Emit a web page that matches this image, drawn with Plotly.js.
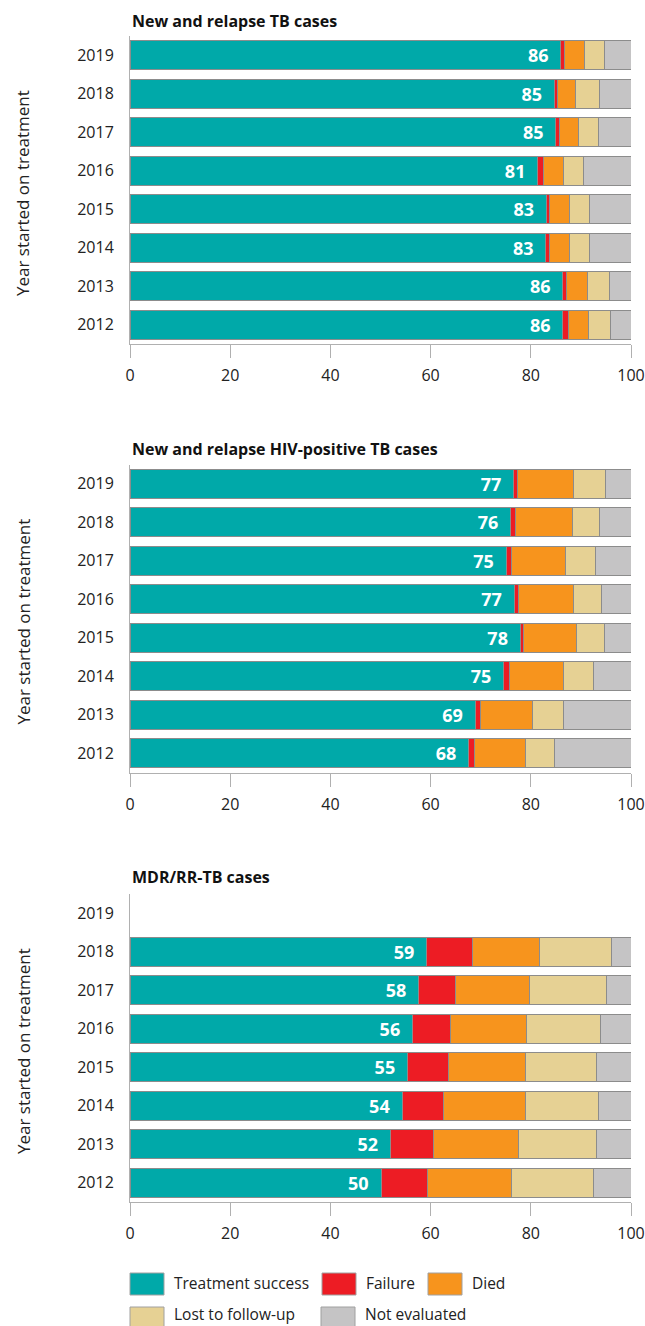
<!DOCTYPE html>
<html>
<head>
<meta charset="utf-8">
<script src="https://cdn.plot.ly/plotly-3.0.1.min.js"></script>
<style>html,body{margin:0;padding:0;background:#fff;}#chart{width:645px;height:1326px;}</style>
</head>
<body>
<div id="chart"></div>
<script>
const years = ['2012','2013','2014','2015','2016','2017','2018','2019'];
const seriesNames = ['Treatment success','Failure','Died','Lost to follow-up','Not evaluated'];
const panelTitles = ['New and relapse TB cases','New and relapse HIV-positive TB cases','MDR/RR-TB cases'];
const xTicks = [0,20,40,60,80,100];
const yTitle = 'Year started on treatment';

// Panel 1: New and relapse TB cases (2012..2019)
const success1 = [86.4, 86.4, 83.0, 83.1, 81.4, 85.0, 84.7, 86.0];
const failure1 = [1.1, 0.8, 0.7, 0.7, 1.2, 0.8, 0.7, 0.8];
const died1    = [4.1, 4.2, 4.0, 3.9, 4.0, 3.8, 3.6, 3.9];
const ltfu1    = [4.4, 4.3, 4.1, 4.0, 4.0, 4.0, 4.7, 4.1];
const ne1      = [4.0, 4.3, 8.2, 8.3, 9.4, 6.4, 6.3, 5.2];

// Panel 2: New and relapse HIV-positive TB cases
const success2 = [67.6, 68.9, 74.6, 77.9, 76.7, 75.1, 76.0, 76.6];
const failure2 = [1.1, 1.0, 1.1, 0.7, 0.8, 1.0, 1.0, 0.8];
const died2    = [10.3, 10.5, 10.9, 10.6, 11.0, 10.8, 11.4, 11.1];
const ltfu2    = [5.8, 6.1, 5.9, 5.6, 5.7, 6.1, 5.4, 6.4];
const ne2      = [15.2, 13.5, 7.5, 5.2, 5.8, 7.0, 6.2, 5.1];

// Panel 3: MDR/RR-TB cases (no 2019 data)
const success3 = [50.1, 52.0, 54.3, 55.4, 56.4, 57.6, 59.2, null];
const failure3 = [9.3, 8.6, 8.2, 8.2, 7.6, 7.4, 9.2, null];
const died3    = [16.7, 17.0, 16.4, 15.4, 15.2, 14.7, 13.3, null];
const ltfu3    = [16.4, 15.6, 14.6, 14.2, 14.8, 15.4, 14.4, null];
const ne3      = [7.5, 6.8, 6.5, 6.8, 6.0, 4.9, 3.9, null];

const colors = ['#00A9A9','#ED1C24','#F7941D','#E6D194','#C5C4C5'];
const outline = '#8C8C8C';
const FONT = 'Open Sans, Noto Sans, sans-serif';

const panels = [
  [success1, failure1, died1, ltfu1, ne1],
  [success2, failure2, died2, ltfu2, ne2],
  [success3, failure3, died3, ltfu3, ne3]
];

// pixel geometry helpers
const W = 645, H = 1326;
const L = 130, R = 14, T = 36, B = 124;
const plotW = W - L - R, plotH = H - T - B;
const px2x = p => (p - L) / plotW;
const py2y = p => (H - B - p) / plotH;

const panelPx = [[36, 344], [464.5, 772.5], [894, 1202]];
const titlePy = [21, 449, 877];

const traces = [];
panels.forEach((series, pi) => {
  const sfx = pi === 0 ? '' : String(pi + 1);
  series.forEach((vals, si) => {
    const tr = {
      type: 'bar', orientation: 'h',
      x: vals, y: years,
      xaxis: 'x' + sfx, yaxis: 'y' + sfx,
      name: seriesNames[si],
      marker: {color: colors[si], line: {color: outline, width: 1}},
      showlegend: false,
      hoverinfo: 'x+name'
    };
    if (si === 0) {
      tr.texttemplate = '%{x:.0f}\u00a0\u00a0';
      tr.textposition = 'inside';
      tr.insidetextanchor = 'end';
      tr.insidetextfont = {family: FONT, size: 18, color: '#ffffff', weight: 'bold'};
      tr.constraintext = 'none';
    } else {
      tr.textposition = 'none';
    }
    traces.push(tr);
  });
});

const layout = {
  width: W, height: H,
  margin: {l: L, r: R, t: T, b: B},
  paper_bgcolor: '#fff', plot_bgcolor: '#fff',
  barmode: 'stack', bargap: 0.25,
  font: {family: FONT, size: 16, color: '#222'},
  showlegend: false,
  annotations: [], shapes: []
};

panelPx.forEach((pp, pi) => {
  const sfx = pi === 0 ? '' : String(pi + 1);
  layout['xaxis' + sfx] = {
    domain: [0, 1], anchor: 'y' + sfx, range: [0, 100], fixedrange: true,
    tickvals: xTicks, ticktext: xTicks.map(String),
    ticks: 'outside', ticklen: 13, tickcolor: '#B0B0B0', tickwidth: 1,
    showline: true, linecolor: '#B0B0B0', linewidth: 1,
    showgrid: false, zeroline: false,
    tickfont: {family: FONT, size: 16, color: '#222'},
    ticklabelstandoff: 4
  };
  layout['yaxis' + sfx] = {
    domain: [py2y(pp[1]), py2y(pp[0])], anchor: 'x' + sfx,
    type: 'category', categoryorder: 'array', categoryarray: years,
    range: [-0.5, 7.5], fixedrange: true,
    showline: true, linecolor: '#B0B0B0', linewidth: 1,
    showgrid: false, zeroline: false, ticks: '',
    tickfont: {family: FONT, size: 16, color: '#222'},
    ticklabelstandoff: 12
  };
  layout.annotations.push({
    xref: 'paper', yref: 'paper', x: 0, y: py2y(titlePy[pi]),
    xanchor: 'left', yanchor: 'middle', showarrow: false,
    text: '<b>' + panelTitles[pi] + '</b>',
    font: {family: FONT, size: 16, color: '#111'}
  });
  layout.annotations.push({
    xref: 'paper', yref: 'paper', x: px2x(23), y: py2y((pp[0] + pp[1]) / 2 + 3),
    xanchor: 'center', yanchor: 'middle', showarrow: false, textangle: -90,
    text: yTitle, font: {family: FONT, size: 17, color: '#222'}
  });
});

// custom legend (swatches + labels)
const legendPos = [
  {x: 130, y: 1284, ty: 1283}, {x: 322, y: 1284, ty: 1283}, {x: 428, y: 1284, ty: 1283},
  {x: 130, y: 1318, ty: 1314}, {x: 321, y: 1318, ty: 1314}
];
seriesNames.forEach((nm, i) => {
  const p = legendPos[i];
  layout.shapes.push({
    type: 'rect', xref: 'paper', yref: 'paper',
    x0: px2x(p.x), x1: px2x(p.x + 34), y0: py2y(p.y - 11), y1: py2y(p.y + 11),
    fillcolor: colors[i], line: {color: '#A0A0A0', width: 1}
  });
  layout.annotations.push({
    xref: 'paper', yref: 'paper', x: px2x(p.x + 42), y: py2y(p.ty),
    xanchor: 'left', yanchor: 'middle', showarrow: false,
    text: nm, font: {family: FONT, size: 15.5, color: '#222'}
  });
});

Plotly.newPlot('chart', traces, layout, {displayModeBar: false, staticPlot: true});
</script>
</body>
</html>
